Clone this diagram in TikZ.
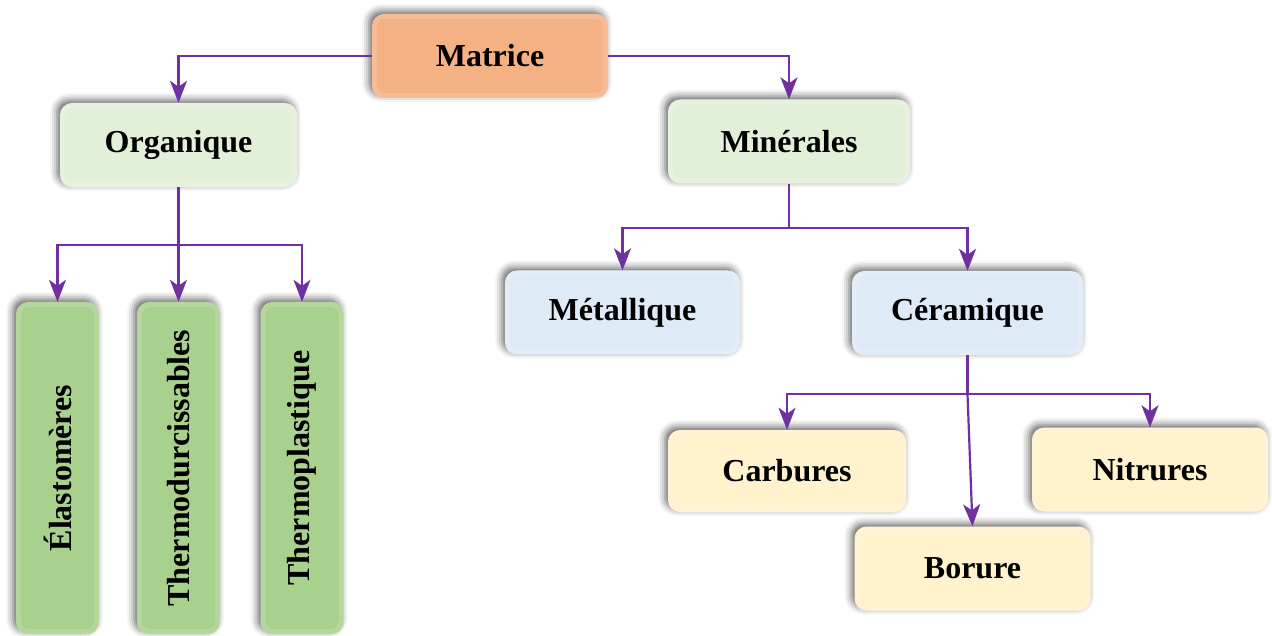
\documentclass[tikz,border=0pt]{standalone}
\usepackage{fontspec}
\setmainfont{Liberation Serif}
\usetikzlibrary{arrows.meta,shadows.blur}
\definecolor{orangeC}{HTML}{F4B183}
\definecolor{greenL}{HTML}{E2F0D9}
\definecolor{greenD}{HTML}{A9D18E}
\definecolor{blueL}{HTML}{DEEBF7}
\definecolor{yellowL}{HTML}{FFF2CC}
\definecolor{purpleC}{HTML}{7030A0}
\begin{document}
\begin{tikzpicture}[x=1pt,y=-1pt,
  boxstyle/.style={draw=none, rounded corners=12pt, inner sep=0pt,
    blur shadow={shadow xshift=-3pt,shadow yshift=3pt,shadow blur radius=7pt,shadow opacity=60},
    path picture={\draw[white,opacity=.15,line width=10pt,rounded corners=12pt]
      (path picture bounding box.south west) rectangle (path picture bounding box.north east);},
    font=\fontsize{32}{38}\selectfont\bfseries},
  wide/.style={boxstyle, minimum width=236pt, minimum height=84pt},
  tall/.style={boxstyle, minimum width=83pt, minimum height=332pt},
  vtext/.style={rotate=90, inner sep=0pt, font=\fontsize{32}{38}\selectfont\bfseries},
  link/.style={draw=purpleC, line width=2.2pt},
  conn/.style={link, -{Stealth[length=22pt,width=17pt,inset=6pt]}}]
\useasboundingbox (0,0) rectangle (1272,636);

\node[wide, fill=orangeC] (mat) at (490,56) {Matrice};
\node[wide, fill=greenL, minimum width=237pt] (org) at (178.5,145) {Organique};
\node[wide, fill=greenL, minimum width=242pt] (min) at (789,141.5) {Minérales};
\node[wide, fill=blueL, minimum width=235pt] (met) at (622.5,312.5) {Métallique};
\node[wide, fill=blueL, minimum width=231pt] (cer) at (967.5,313) {Céramique};
\node[wide, fill=yellowL, minimum width=238pt, minimum height=82pt] (car) at (787,471) {Carbures};
\node[wide, fill=yellowL] (nit) at (1150,469.5) {Nitrures};
\node[wide, fill=yellowL] (bor) at (972.5,568.5) {Borure};

\node[tall, fill=greenD] (ela) at (57.5,468) {};
\node[vtext] (ela-t) at (ela.center) {Élastomères};
\node[tall, fill=greenD] (thd) at (178.5,468) {};
\node[vtext] (thd-t) at (thd.center) {Thermodurcissables};
\node[tall, fill=greenD] (thp) at (302,468) {};
\node[vtext] (thp-t) at (thp.center) {Thermoplastique};

\draw[conn] (mat.west) -| (org.north);
\draw[conn] (mat.east) -| (min.north);

\coordinate (j1) at (org.south |- 0,245);
\draw[link] (org.south) -- (j1);
\draw[conn] (j1) -| (ela.north);
\draw[conn] (j1) -- (thd.north);
\draw[conn] (j1) -| (thp.north);

\coordinate (j2) at (min.south |- 0,228);
\draw[link] (min.south) -- (j2);
\draw[conn] (j2) -| (met.north);
\draw[conn] (j2) -| (cer.north);

\coordinate (j3) at (cer.south |- 0,394);
\draw[link] (cer.south) -- (j3);
\draw[conn] (j3) -| (car.north);
\draw[conn] (j3) -| (nit.north);
\draw[conn] (j3) -- (bor.north);
\end{tikzpicture}
\end{document}
